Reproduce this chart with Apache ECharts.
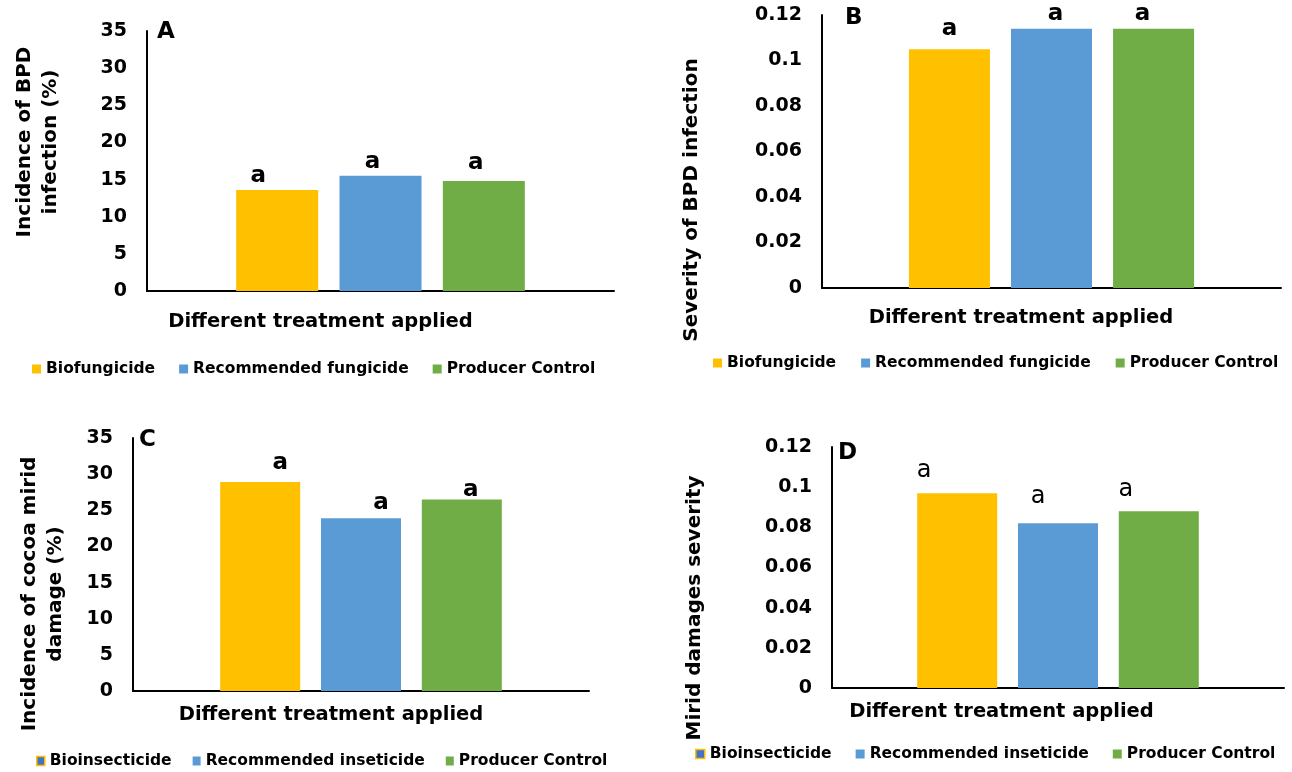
<!DOCTYPE html>
<html>
<head>
<meta charset="utf-8">
<script src="https://cdn.jsdelivr.net/npm/echarts@6/dist/echarts.min.js"></script>
<style>
html,body{margin:0;padding:0;background:#fff;}
#chart{width:1292px;height:772px;}
</style>
</head>
<body>
<div id="chart"></div>
<script>
// ---- data ----
const treatmentsBPD = ['Biofungicide', 'Recommended fungicide', 'Producer Control'];
const treatmentsMirid = ['Bioinsecticide', 'Recommended inseticide', 'Producer Control'];
const incidenceBPD = [13.6, 15.5, 14.8];       // panel A (%)
const severityBPD = [0.105, 0.114, 0.114];     // panel B
const incidenceMirid = [28.9, 23.9, 26.5];     // panel C (%)
const severityMirid = [0.097, 0.082, 0.088];   // panel D
const lettersA = ['a', 'a', 'a'];
const lettersB = ['a', 'a', 'a'];
const lettersC = ['a', 'a', 'a'];
const lettersD = ['a', 'a', 'a'];
const pctTicks = [0, 5, 10, 15, 20, 25, 30, 35];
const sevTicks = [0, 0.02, 0.04, 0.06, 0.08, 0.1, 0.12];
const xCategory = [''];

// ---- style ----
const FONT = 'DejaVu Sans';
const COLORS = ['#FFC000', '#5B9BD5', '#70AD47'];

const panels = [
  { id: 'A', names: treatmentsBPD, values: incidenceBPD, letters: lettersA, ticks: pctTicks,
    grid: { left: 147, top: 31, width: 467, height: 260 }, barWidth: 82,
    yName: 'Incidence of BPD\ninfection (%)', yNameGap: 83, yNamePad: [0, 0, 0, 38],
    xNameGap: 21, xNamePad: [0, 120, 0, 0],
    legend: { left: 32, top: 361, gap: 24, icon: 9 }, tag: { left: 157, top: 20.5 },
    labelBold: true, labelSize: 23,
    labelOffsets: [[-19, -2], [-8, -2], [-8, -7]] },
  { id: 'B', names: treatmentsBPD, values: severityBPD, letters: lettersB, ticks: sevTicks,
    grid: { left: 822, top: 15, width: 459, height: 273 }, barWidth: 81,
    yName: 'Severity of BPD infection', yNameGap: 117, yNamePad: [0, 97, 0, 0],
    xNameGap: 20, xNamePad: [0, 61, 0, 0],
    legend: { left: 713, top: 355, gap: 25, icon: 9 }, tag: { left: 845, top: 6.5 },
    labelBold: true, labelSize: 23,
    labelOffsets: [[0, -9], [4, -3], [-11, -3]] },
  { id: 'C', names: treatmentsMirid, values: incidenceMirid, letters: lettersC, ticks: pctTicks,
    grid: { left: 133, top: 438, width: 456, height: 253 }, barWidth: 80,
    yName: 'Incidence of cocoa mirid\ndamage (%)', yNameGap: 64, yNamePad: [0, 59, 0, 0],
    xNameGap: 14, xNamePad: [0, 60, 0, 0],
    legend: { left: 36, top: 753, gap: 21, icon: 8 }, tag: { left: 139, top: 428.5 },
    labelBold: true, labelSize: 23,
    labelOffsets: [[20, -8], [20, -4], [9, 2]] },
  { id: 'D', names: treatmentsMirid, values: severityMirid, letters: lettersD, ticks: sevTicks,
    grid: { left: 832, top: 447, width: 452, height: 241 }, barWidth: 80,
    yName: 'Mirid damages severity', yNameGap: 124, yNamePad: [0, 81, 0, 0],
    xNameGap: 14, xNamePad: [0, 113, 0, 0],
    legend: { left: 695, top: 746, gap: 24, icon: 9 }, tag: { left: 838, top: 442 },
    labelBold: false, labelSize: 24,
    labelOffsets: [[-33, -10], [-20, -15], [-33, -10]] }
];

const option = {
  backgroundColor: '#ffffff',
  animation: false,
  textStyle: { fontFamily: FONT },
  title: [], grid: [], xAxis: [], yAxis: [], legend: [], series: []
};

panels.forEach(function (p, i) {
  const t = p.ticks;
  option.grid.push(Object.assign({ containLabel: false, outerBoundsMode: 'none' }, p.grid));
  option.title.push({
    text: p.id, left: p.tag.left, top: p.tag.top, padding: 0,
    textStyle: { fontFamily: FONT, fontWeight: 'bold', fontSize: 23, color: '#000' }
  });
  option.xAxis.push({
    type: 'category', gridIndex: i, data: xCategory,
    name: 'Different treatment applied', nameLocation: 'middle', nameGap: p.xNameGap,
    nameTextStyle: { fontFamily: FONT, fontWeight: 'bold', fontSize: 19.5, color: '#000', padding: p.xNamePad },
    axisLine: { lineStyle: { color: '#000', width: 2 } },
    axisTick: { show: false }, axisLabel: { show: false }, splitLine: { show: false }
  });
  option.yAxis.push({
    type: 'value', gridIndex: i, min: t[0], max: t[t.length - 1], interval: t[1] - t[0],
    name: p.yName, nameLocation: 'middle', nameRotate: 90, nameGap: p.yNameGap,
    nameTextStyle: { fontFamily: FONT, fontWeight: 'bold', fontSize: 20, lineHeight: 26, color: '#000', padding: p.yNamePad },
    axisLine: { show: true, lineStyle: { color: '#000', width: 2 } },
    axisTick: { show: false }, splitLine: { show: false },
    axisLabel: { fontFamily: FONT, fontWeight: 'bold', fontSize: 19, color: '#000', margin: 20 }
  });
  option.legend.push({
    left: p.legend.left, top: p.legend.top, padding: 0, orient: 'horizontal',
    itemWidth: p.legend.icon, itemHeight: 9, itemGap: p.legend.gap, icon: 'rect', selectedMode: false,
    textStyle: { fontFamily: FONT, fontWeight: 'bold', fontSize: 15.5, color: '#000', lineHeight: 16 },
    data: p.names.map(function (n, k) {
      if (p.id === 'C' || p.id === 'D') {
        if (k === 0) return { name: n, itemStyle: { color: '#4472C4', borderColor: '#FFC000', borderWidth: 1.5 } };
      }
      return { name: n, itemStyle: { color: COLORS[k] } };
    })
  });
  p.names.forEach(function (n, k) {
    option.series.push({
      type: 'bar', name: n, xAxisIndex: i, yAxisIndex: i,
      data: [p.values[k]], barWidth: p.barWidth, barGap: '26%',
      itemStyle: { color: COLORS[k] },
      label: {
        show: true, position: 'top', distance: 0, offset: p.labelOffsets[k],
        formatter: p.letters[k], fontFamily: FONT, fontSize: p.labelSize,
        fontWeight: p.labelBold ? 'bold' : 'normal', color: '#000'
      }
    });
  });
});

const chart = echarts.init(document.getElementById('chart'), null, { renderer: 'canvas' });
chart.setOption(option);
</script>
</body>
</html>
